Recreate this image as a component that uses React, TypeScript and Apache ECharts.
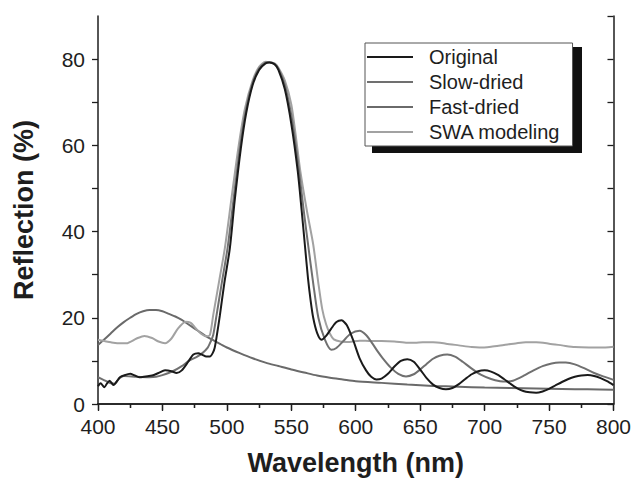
import React, { useEffect, useRef } from "react";
import * as echarts from "echarts";

const seriesNames = ["Original", "Slow-dried", "Fast-dried", "SWA modeling"];

const original: number[][] = [
  [400, 4.1], [402, 4.8], [405, 3.9], [407, 4.8], [409, 5.4], [412, 4.4], [415, 5.4], [417, 6.2],
  [420, 6.6], [425, 7.0], [428, 6.7], [432, 6.2], [437, 6.4], [442, 6.6], [447, 7.2], [452, 7.8],
  [457, 7.6], [461, 7.2], [465, 7.8], [470, 9.8], [474, 11.5], [477.8, 11.8], [481, 11.4],
  [484, 11.0], [486.8, 11.0], [489, 11.8], [490.5, 13], [492, 15.5], [494.6, 20.6], [498, 28],
  [502.3, 36.1], [506, 47], [510.8, 59.2], [515, 67.5], [520, 74], [525, 77.5], [530, 79],
  [533, 79.2], [537, 78.8], [540, 77.5], [545, 73], [550, 65], [555, 54], [558, 45], [560.5, 37],
  [563, 29], [565, 24], [567, 20], [570, 16.5], [573.4, 14.9], [577, 15.8], [581, 17.5], [585, 19],
  [589, 19.4], [593, 18.3], [598, 14.8], [603, 10.6], [608, 7.8], [612, 6.3], [616, 5.7], [620, 5.9],
  [625, 7], [630, 8.7], [635, 10], [640, 10.4], [645, 9.8], [650, 8], [655, 6], [660, 4.5],
  [665, 3.7], [670, 3.4], [675, 3.7], [680, 4.6], [685, 5.8], [690, 6.9], [695, 7.6], [700, 7.8],
  [705, 7.5], [710, 6.8], [715, 5.8], [720, 4.7], [725, 3.7], [730, 3], [735, 2.7], [740, 2.6],
  [745, 2.9], [750, 3.5], [755, 4.3], [760, 5.1], [765, 5.8], [770, 6.3], [775, 6.6], [780, 6.7],
  [785, 6.5], [790, 6], [795, 5.3], [800, 4.4],
];

const slowDried: number[][] = [
  [400, 6.2], [405, 5.5], [410, 4.8], [413, 4.7], [416, 5.8], [420, 6.5], [430, 6.3], [440, 6.2],
  [445, 6.3], [450, 6.7], [458, 7.6], [465, 8.8], [471, 10.1], [477, 11], [481, 11.8], [485, 13],
  [487.5, 14.5], [489.4, 16], [492, 20.6], [496, 28], [500.5, 36.1], [505, 47], [510, 59.2],
  [515, 68.5], [520, 74.5], [525, 77.8], [530, 79.2], [533, 79.3], [537, 78.9], [540, 77.8],
  [545, 74], [550, 67], [553, 61], [556, 54], [560, 44], [563, 37], [567, 28], [571, 20],
  [576, 15], [581, 12.6], [585, 13], [590, 14.5], [596, 16.3], [603, 17], [608, 16], [613, 14],
  [617, 12.2], [621, 10.6], [627, 8.5], [633, 7], [639, 6.4], [645, 6.9], [650, 8], [655, 9.3],
  [660, 10.5], [665, 11.2], [671, 11.5], [677, 11], [683, 9.8], [690, 8.2], [697, 6.8], [705, 5.8],
  [712, 5.3], [717, 5.2], [722, 5.4], [730, 6.5], [738, 7.8], [745, 8.8], [752, 9.4], [758, 9.6],
  [763, 9.6], [770, 9.2], [778, 8.2], [785, 7.2], [792, 6.4], [800, 5.6],
];

const fastDried: number[][] = [
  [400, 13.7], [405, 15], [410, 16.4], [415, 17.8], [420, 19], [425, 20], [430, 20.9], [435, 21.5],
  [440, 21.8], [445, 21.8], [450, 21.5], [455, 20.9], [460, 20.3], [465, 19.5], [470, 18.5],
  [475, 17.5], [480, 16.5], [485, 15.5], [490, 14.7], [495, 13.9], [500, 13.1], [510, 11.8],
  [520, 10.6], [530, 9.6], [540, 8.8], [550, 8], [560, 7.3], [570, 6.6], [580, 6.1], [590, 5.7],
  [600, 5.3], [620, 4.9], [640, 4.5], [660, 4.2], [680, 4], [700, 3.8], [720, 3.7], [740, 3.6],
  [760, 3.5], [780, 3.4], [800, 3.3],
];

const swaModeling: number[][] = [
  [400, 14.9], [405, 14.6], [410, 14.3], [415, 14.1], [422, 14.1], [430, 15.2], [436, 15.8],
  [442, 15.3], [447, 14.5], [452, 14.1], [457, 15.2], [462, 17.5], [468, 19.1], [472, 18.8],
  [476, 17.5], [480, 16.3], [484, 15.7], [486.8, 16], [489.4, 20.6], [494, 28.5], [498.4, 36.1],
  [503.5, 47.5], [508.8, 59.2], [514, 68.5], [520, 75], [525, 78.2], [530, 79.4], [533, 79.3],
  [537, 79], [540, 78], [545, 75], [550, 69.5], [554, 61], [557, 54], [562, 45], [567, 37],
  [571, 28], [574, 22], [577, 18.5], [580, 16.3], [583, 15], [588, 14.5], [595, 14.4],
  [603, 14.7], [612, 14.6], [620, 14.6], [630, 14.5], [640, 14.2], [646, 14.2], [652, 14.3],
  [660, 14.3], [670, 14], [680, 13.6], [690, 13.2], [696, 13.1], [705, 13.3], [715, 13.7],
  [725, 14.1], [732, 14.3], [740, 14.3], [750, 14], [760, 13.6], [770, 13.2], [781, 13.1],
  [790, 13.1], [800, 13.3],
];

const xTicks = { min: 400, max: 800, interval: 50 };
const yTicks = { min: 0, max: 90, interval: 10 };

const FONT = "'Liberation Sans', Arial, Helvetica, sans-serif";
const INK = "#1e1e1e";

export default function App() {
  const ref = useRef<HTMLDivElement>(null);

  useEffect(() => {
    if (!ref.current) return;
    const chart = echarts.init(ref.current, undefined, { renderer: "svg" });

    const axisLine = { show: true, lineStyle: { color: INK, width: 1.5 } };
    const tickStyle = { color: INK, width: 1.3 };

    const line = (name: string, data: number[][], color: string, z: number) => ({
      name,
      type: "line",
      data,
      showSymbol: false,
      symbol: "none",
      smooth: 0.25,
      z,
      lineStyle: { color, width: 2 },
      itemStyle: { color },
    });

    chart.setOption({
      animation: false,
      backgroundColor: "#ffffff",
      textStyle: { fontFamily: FONT },
      grid: { left: 98, right: 20, top: 16, bottom: 75, containLabel: false },
      legend: {
        data: seriesNames,
        orient: "vertical",
        left: 365,
        top: 43,
        z: 10,
        padding: [4, 12, 4, 2],
        itemGap: 5,
        itemWidth: 46,
        itemHeight: 2,
        icon: "rect",
        backgroundColor: "#ffffff",
        borderColor: "#555555",
        borderWidth: 1,
        borderRadius: 0,
        textStyle: {
          fontSize: 20,
          lineHeight: 20,
          color: INK,
          fontFamily: FONT,
          padding: [0, 0, 0, 11],
        },
      },
      graphic: [
        {
          type: "rect",
          z: 5,
          shape: { x: 372, y: 47, width: 210, height: 106 },
          style: { fill: "#111111" },
        },
      ],
      xAxis: [
        {
          type: "value",
          position: "bottom",
          ...xTicks,
          axisLine,
          axisTick: { show: true, inside: false, length: 7, lineStyle: tickStyle },
          minorTick: { show: true, splitNumber: 2, length: 4, lineStyle: tickStyle },
          splitLine: { show: false },
          axisLabel: { fontSize: 21, color: INK, margin: 12, fontFamily: FONT },
          name: "Wavelength (nm)",
          nameLocation: "middle",
          nameGap: 45,
          nameTextStyle: { fontSize: 27, fontWeight: "bold", color: INK, fontFamily: FONT },
        },
        {
          type: "value",
          position: "top",
          ...xTicks,
          axisLine,
          axisTick: { show: true, inside: true, length: 6, lineStyle: tickStyle },
          minorTick: { show: true, splitNumber: 2, length: 4, lineStyle: tickStyle },
          splitLine: { show: false },
          axisLabel: { show: false },
        },
      ],
      yAxis: [
        {
          type: "value",
          position: "left",
          ...yTicks,
          axisLine,
          axisTick: { show: true, inside: false, length: 6, lineStyle: tickStyle },
          splitLine: { show: false },
          axisLabel: {
            fontSize: 21,
            color: INK,
            margin: 13,
            fontFamily: FONT,
            showMaxLabel: false,
            formatter: (v: number) => (v % 20 === 0 && v < 90 ? String(v) : ""),
          },
          name: "Reflection (%)",
          nameLocation: "middle",
          nameGap: 61,
          nameTextStyle: { fontSize: 27, fontWeight: "bold", color: INK, fontFamily: FONT },
        },
        {
          type: "value",
          position: "right",
          ...yTicks,
          axisLine,
          axisTick: { show: true, inside: true, length: 6, lineStyle: tickStyle },
          splitLine: { show: false },
          axisLabel: { show: false },
        },
      ],
      series: [
        line("Fast-dried", fastDried, "#6a6a6a", 2),
        line("SWA modeling", swaModeling, "#a2a2a2", 3),
        line("Slow-dried", slowDried, "#707070", 4),
        line("Original", original, "#1a1a1a", 5),
      ],
    });

    return () => chart.dispose();
  }, []);

  return (
    <div
      ref={ref}
      style={{ position: "fixed", left: 0, top: 0, width: 634, height: 481, background: "#fff" }}
    />
  );
}
